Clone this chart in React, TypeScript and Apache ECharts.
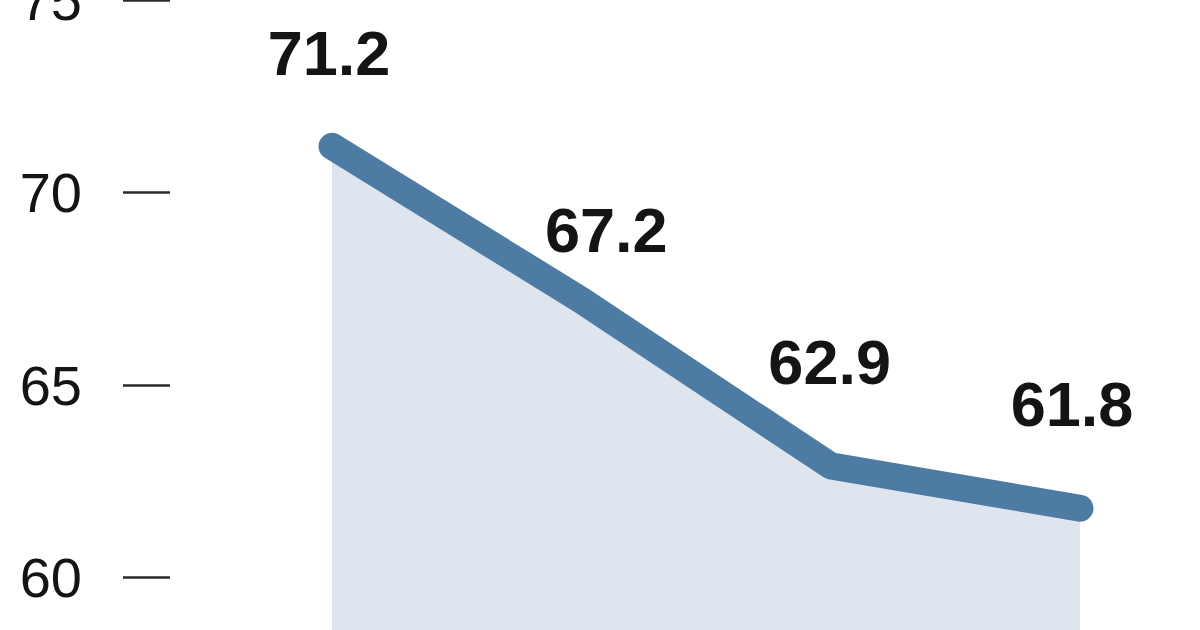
import React, { useEffect, useRef } from 'react'
import * as echarts from 'echarts'

// x categories are not shown in the picture, only their order matters
const categories = ['1', '2', '3', '4']
const values = [71.2, 67.2, 62.9, 61.8]
const yTicks = [55, 60, 65, 70, 75]

// per-label nudges [dx, dy] so the numbers sit where the source has them
const labelOffsets = [
    [-3, -62],
    [25, -39],
    [-1, -72],
    [-8, -73],
]

const App: React.FC = () => {
    const chartRef = useRef<HTMLDivElement>(null)

    useEffect(() => {
        if (!chartRef.current) {
            return
        }

        const chart = echarts.init(chartRef.current, null, { renderer: 'svg' })

        const option = {
            animation: false,
            backgroundColor: '#ffffff',
            grid: {
                left: 332,
                right: 120,
                top: 0,
                bottom: 0,
                containLabel: false,
                outerBoundsMode: 'none',
            },
            xAxis: {
                type: 'category',
                data: categories,
                boundaryGap: false,
                show: false,
            },
            yAxis: {
                type: 'value',
                min: yTicks[0],
                max: yTicks[yTicks.length - 1],
                interval: 5,
                position: 'left',
                offset: 162,
                axisLine: { show: false },
                axisTick: {
                    show: true,
                    length: 47,
                    lineStyle: { color: '#2a2a2a', width: 2.5 },
                },
                axisLabel: {
                    show: true,
                    showMinLabel: false,
                    margin: 88,
                    fontSize: 56,
                    fontFamily: '"Liberation Sans", Arial, sans-serif',
                    fontWeight: 'normal',
                    color: '#141414',
                },
                splitLine: { show: false },
            },
            series: [
                {
                    type: 'line',
                    data: values.map((v, i) => ({
                        value: v,
                        label: { offset: labelOffsets[i] },
                    })),
                    showSymbol: true,
                    symbol: 'circle',
                    symbolSize: 0,
                    itemStyle: { color: '#4d7ba4' },
                    lineStyle: {
                        color: '#4d7ba4',
                        width: 27,
                        cap: 'round',
                        join: 'round',
                    },
                    areaStyle: {
                        color: '#dee5ee',
                        opacity: 1,
                    },
                    label: {
                        show: true,
                        position: 'top',
                        distance: 0,
                        fontSize: 63,
                        fontWeight: 'bold',
                        fontFamily: '"Liberation Sans", Arial, sans-serif',
                        color: '#141414',
                        formatter: (p: { value: number }) => p.value.toFixed(1),
                    },
                    emphasis: { disabled: true },
                },
            ],
        }

        chart.setOption(option)

        const handleResize = () => {
            chart.resize()
        }

        window.addEventListener('resize', handleResize)

        return () => {
            window.removeEventListener('resize', handleResize)
            chart.dispose()
        }
    }, [])

    // the source picture is a crop: the plot runs on below the bottom edge
    return (
        <div style={{ position: 'fixed', top: 0, left: 0, width: '1200px', height: '630px', overflow: 'hidden', background: '#fff' }}>
            <div ref={chartRef} style={{ width: '1200px', height: '770px' }} />
        </div>
    )
}

export default App
